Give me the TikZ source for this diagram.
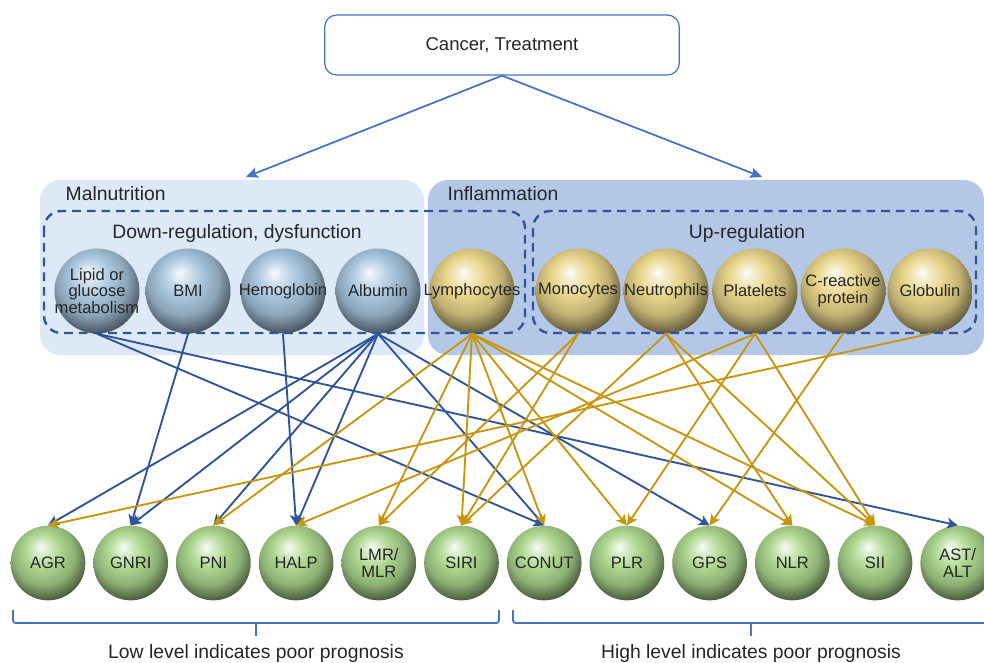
\documentclass[tikz,border=0pt]{standalone}
\usepackage{fontspec}
\setmainfont{Liberation Sans}
\usepackage{tikz}
\usetikzlibrary{arrows.meta,shapes,calc,positioning}
\definecolor{lineblue}{RGB}{47,85,151}
\definecolor{linegold}{RGB}{200,150,14}
\definecolor{boxblue}{RGB}{68,114,196}
\definecolor{malbg}{RGB}{221,233,246}
\definecolor{infbg}{RGB}{180,199,231}
\definecolor{ballblue}{RGB}{168,198,222}
\definecolor{ballgold}{RGB}{232,212,138}
\definecolor{ballgreen}{RGB}{172,214,142}
\definecolor{txt}{RGB}{38,38,38}
\pgfdeclareradialshading{sphblue}{\pgfpoint{-5bp}{11bp}}{color(0bp)=(ballblue!8!white); color(5bp)=(ballblue!50!white); color(12bp)=(ballblue); color(21bp)=(ballblue!82!black); color(29bp)=(ballblue!45!black); color(37bp)=(ballblue!22!black); color(50bp)=(ballblue!20!black)}
\pgfdeclareradialshading{sphgold}{\pgfpoint{-5bp}{11bp}}{color(0bp)=(ballgold!8!white); color(5bp)=(ballgold!50!white); color(12bp)=(ballgold); color(21bp)=(ballgold!82!black); color(29bp)=(ballgold!45!black); color(37bp)=(ballgold!22!black); color(50bp)=(ballgold!20!black)}
\pgfdeclareradialshading{sphgreen}{\pgfpoint{-5bp}{11bp}}{color(0bp)=(ballgreen!8!white); color(5bp)=(ballgreen!50!white); color(12bp)=(ballgreen); color(21bp)=(ballgreen!82!black); color(29bp)=(ballgreen!45!black); color(37bp)=(ballgreen!22!black); color(50bp)=(ballgreen!20!black)}

\begin{document}
\begin{tikzpicture}[x=0.75pt,y=-0.75pt,
  every node/.style={text=txt},
  ball/.style={circle,inner sep=0pt,minimum size=63.75pt,shade},
  balltext/.style={align=center,inner sep=0pt,font=\fontsize{12.4}{12.5}\selectfont},
  blueball/.style={ball,shading=sphblue},
  goldball/.style={ball,shading=sphgold},
  greenball/.style={ball,shading=sphgreen,minimum size=56pt},
  bluelink/.style={draw=lineblue,line width=1.4pt,-{Stealth[length=8pt,width=8pt,inset=2pt]}},
  goldlink/.style={draw=linegold,line width=1.4pt,-{Stealth[length=8pt,width=8pt,inset=2pt]}},
  toplink/.style={draw=boxblue,line width=1.3pt,-{Stealth[length=9pt,width=8pt,inset=2pt]}},
  dashbox/.style={draw=lineblue,line width=1.8pt,dash pattern=on 6.5pt off 4.5pt,rounded corners=13pt},
  headfont/.style={font=\fontsize{14.5}{16}\selectfont},
  bracket/.style={draw=boxblue,line width=1.4pt,rounded corners=2pt}]
  \useasboundingbox (0,0) rectangle (984,662);
  \fill[white] (0,0) rectangle (984,662);

  \node[draw=boxblue,line width=0.9pt,rounded corners=9pt,minimum width=266pt,minimum height=45pt,
        font=\fontsize{13.9}{16}\selectfont] (cancer) at (502,45) {Cancer, Treatment};
  \coordinate (malin) at (246,177);
  \coordinate (infin) at (762,177);
  \draw[toplink] (cancer.south) -- (malin);
  \draw[toplink] (cancer.south) -- (infin);

  \fill[malbg,rounded corners=15pt] (40,180) rectangle (424,355);
  \fill[infbg,rounded corners=15pt] (428,180) rectangle (984,355);
  \node[headfont,anchor=west] (maltitle) at (61,194) {Malnutrition};
  \node[headfont,anchor=west] (inftitle) at (443,194) {Inflammation};
  \node[headfont] (downtitle) at (237,233) {Down-regulation, dysfunction};
  \node[headfont] (uptitle) at (747,233) {Up-regulation};

  \node[blueball,label={[balltext]center:Lipid or\\glucose\\metabolism}] (lip) at (97,291) {};
  \node[blueball,label={[balltext]center:BMI}] (bmi) at (188,291) {};
  \node[blueball,label={[balltext]center:Hemoglobin}] (hem) at (283,291) {};
  \node[blueball,label={[balltext]center:Albumin}] (alb) at (378,291) {};
  \node[goldball,label={[balltext]center:Lymphocytes}] (lym) at (472,291) {};
  \node[goldball,label={[balltext]center:Monocytes}] (mon) at (578,291) {};
  \node[goldball,label={[balltext]center:Neutrophils}] (neu) at (666,291) {};
  \node[goldball,label={[balltext]center:Platelets}] (pla) at (755,291) {};
  \node[goldball,label={[balltext]center:C-reactive\\protein}] (crp) at (843,291) {};
  \node[goldball,label={[balltext]center:Globulin}] (glo) at (930,291) {};

  \draw[dashbox] (44,211) rectangle (525,333);
  \draw[dashbox] (533,211) rectangle (976,333);

  \node[greenball,label={[balltext]center:AGR}] (agr) at (48,563) {};
  \node[greenball,label={[balltext]center:GNRI}] (gnri) at (130.7,563) {};
  \node[greenball,label={[balltext]center:PNI}] (pni) at (213.4,563) {};
  \node[greenball,label={[balltext]center:HALP}] (halp) at (296.1,563) {};
  \node[greenball,label={[balltext]center:LMR/\\MLR}] (lmr) at (378.8,563) {};
  \node[greenball,label={[balltext]center:SIRI}] (siri) at (461.5,563) {};
  \node[greenball,label={[balltext]center:CONUT}] (conut) at (544.2,563) {};
  \node[greenball,label={[balltext]center:PLR}] (plr) at (626.9,563) {};
  \node[greenball,label={[balltext]center:GPS}] (gps) at (709.6,563) {};
  \node[greenball,label={[balltext]center:NLR}] (nlr) at (792.3,563) {};
  \node[greenball,label={[balltext]center:SII}] (sii) at (875,563) {};
  \node[greenball,label={[balltext]center:AST/\\ALT}] (ast) at (957.7,563) {};

  \draw[bluelink] (lip.south) -- (conut.north);
  \draw[bluelink] (lip.south) -- (ast.north);
  \draw[bluelink] (bmi.south) -- (gnri.north);
  \draw[bluelink] (hem.south) -- (halp.north);
  \draw[bluelink] (alb.south) -- (agr.north);
  \draw[bluelink] (alb.south) -- (gnri.north);
  \draw[bluelink] (alb.south) -- (pni.north);
  \draw[bluelink] (alb.south) -- (halp.north);
  \draw[bluelink] (alb.south) -- (conut.north);
  \draw[bluelink] (alb.south) -- (gps.north);

  \draw[goldlink] (lym.south) -- (pni.north);
  \draw[goldlink] (lym.south) -- (lmr.north);
  \draw[goldlink] (lym.south) -- (siri.north);
  \draw[goldlink] (lym.south) -- (conut.north);
  \draw[goldlink] (lym.south) -- (plr.north);
  \draw[goldlink] (lym.south) -- (nlr.north);
  \draw[goldlink] (lym.south) -- (sii.north);
  \draw[goldlink] (mon.south) -- (lmr.north);
  \draw[goldlink] (mon.south) -- (siri.north);
  \draw[goldlink] (neu.south) -- (siri.north);
  \draw[goldlink] (neu.south) -- (nlr.north);
  \draw[goldlink] (neu.south) -- (sii.north);
  \draw[goldlink] (pla.south) -- (halp.north);
  \draw[goldlink] (pla.south) -- (plr.north);
  \draw[goldlink] (pla.south) -- (sii.north);
  \draw[goldlink] (crp.south) -- (gps.north);
  \draw[goldlink] (glo.south) -- (agr.north);

  \draw[bracket] (13,610) -- (13,623) -- (499,623) -- (499,610);
  \draw[bracket] (256,623) -- (256,636);
  \draw[bracket] (513,610) -- (513,623) -- (992,623) -- (992,610);
  \draw[bracket] (751,623) -- (751,636);
  \node[headfont] (lowtext) at (256,653) {Low level indicates poor prognosis};
  \node[headfont] (hightext) at (751,653) {High level indicates poor prognosis};
\end{tikzpicture}
\end{document}
